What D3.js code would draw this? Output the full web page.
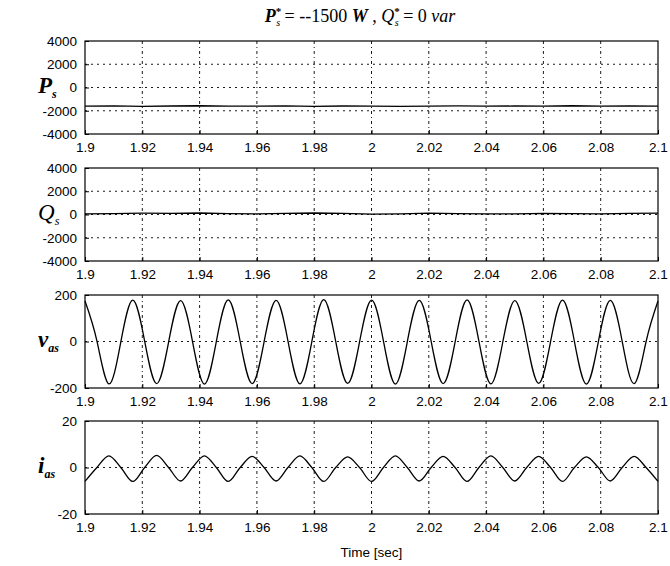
<!DOCTYPE html>
<html>
<head>
<meta charset="utf-8">
<script src="https://cdn.jsdelivr.net/npm/d3@7"></script>
<style>
body { margin: 0; background: #fff; }
</style>
</head>
<body>
<div class="canvas"></div>
<script>
// x ticks (time, sec)
const timeTicks = [1.9, 1.92, 1.94, 1.96, 1.98, 2.0, 2.02, 2.04, 2.06, 2.08, 2.1]

// Ps and Qs, read every 10 ms
const tPQ = [1.9, 1.91, 1.92, 1.93, 1.94, 1.95, 1.96, 1.97, 1.98, 1.99, 2.0,
             2.01, 2.02, 2.03, 2.04, 2.05, 2.06, 2.07, 2.08, 2.09, 2.1]
const psVals = [-1600, -1580, -1620, -1590, -1570, -1610, -1600, -1580, -1620, -1590, -1600,
                -1630, -1600, -1580, -1610, -1590, -1600, -1570, -1600, -1590, -1610]
const qsVals = [60, 80, 110, 90, 130, 70, 60, 100, 130, 90, 40,
                60, 110, 80, 60, 50, 100, 80, 60, 90, 120]

// vas and ias, read at peaks, troughs and zero crossings (60 Hz)
const tWave = [1.9, 1.90417, 1.90833, 1.9125, 1.91667, 1.92083, 1.925, 1.92917,
               1.93333, 1.9375, 1.94167, 1.94583, 1.95, 1.95417, 1.95833, 1.9625,
               1.96667, 1.97083, 1.975, 1.97917, 1.98333, 1.9875, 1.99167, 1.99583,
               2.0, 2.00417, 2.00833, 2.0125, 2.01667, 2.02083, 2.025, 2.02917,
               2.03333, 2.0375, 2.04167, 2.04583, 2.05, 2.05417, 2.05833, 2.0625,
               2.06667, 2.07083, 2.075, 2.07917, 2.08333, 2.0875, 2.09167, 2.09583, 2.1]
const vasVals = [174, 2, -182, -2, 178, 1, -181, -3, 176, 2, -183, -1, 179, 0, -181, -2,
                 177, 3, -182, -1, 180, 1, -180, -2, 178, 2, -183, -1, 177, 0, -181, -3,
                 179, 1, -182, -2, 176, 2, -180, -1, 178, 0, -183, -2, 177, 1, -181, -1, 174]
const iasVals = [-6, 0, 5, 0, -6, 0, 5.2, 0, -5.8, 0, 5, 0, -6, 0, 4.8, 0,
                 -5.8, 0, 5, 0, -6, 0, 4.6, 0, -6, 0, 5, 0, -5.8, 0, 4.8, 0,
                 -6, 0, 5, 0, -5.8, 0, 4.8, 0, -6, 0, 4.6, 0, -5.8, 0, 4.8, 0, -6]

const dims = { left: 85, right: 658, height: 93 }
const tops = [41, 168, 295, 421]

const panels = [
  { letter: 'P', sub: 's', bold: true, t: tPQ, v: psVals, dom: [-4000, 4000],
    ticks: [-4000, -2000, 0, 2000, 4000], curve: d3.curveLinear },
  { letter: 'Q', sub: 's', bold: false, t: tPQ, v: qsVals, dom: [-4000, 4000],
    ticks: [-4000, -2000, 0, 2000, 4000], curve: d3.curveLinear },
  { letter: 'v', sub: 'as', bold: true, t: tWave, v: vasVals, dom: [-200, 200],
    ticks: [-200, 0, 200], curve: d3.curveNatural },
  { letter: 'i', sub: 'as', bold: true, t: tWave, v: iasVals, dom: [-20, 20],
    ticks: [-20, 0, 20], curve: d3.curveCatmullRom }
]

const svg = d3.select('.canvas')
  .append('svg')
  .attr('width', 670)
  .attr('height', 566)
  .style('font-family', '"Liberation Sans", Arial, sans-serif')

const x = d3.scaleLinear().domain([1.9, 2.1]).range([dims.left, dims.right])
const fmt = d => String(+d.toFixed(2))

panels.forEach((p, i) => {
  const top = tops[i]
  const y = d3.scaleLinear().domain(p.dom).range([top + dims.height, top])
  const g = svg.append('g')

  // grid
  g.selectAll('.vgrid')
    .data(timeTicks.slice(1, -1))
    .enter().append('line')
    .attr('x1', d => x(d)).attr('x2', d => x(d))
    .attr('y1', top).attr('y2', top + dims.height)
    .attr('stroke', '#000').attr('stroke-width', 0.9)
    .attr('stroke-dasharray', '3,3,1,3')
  g.selectAll('.hgrid')
    .data(p.ticks.slice(1, -1))
    .enter().append('line')
    .attr('x1', dims.left).attr('x2', dims.right)
    .attr('y1', d => y(d)).attr('y2', d => y(d))
    .attr('stroke', '#000').attr('stroke-width', 0.9)
    .attr('stroke-dasharray', '2,4')

  // data line
  const line = d3.line()
    .x((d, k) => x(p.t[k]))
    .y(d => y(d))
    .curve(p.curve)
  g.append('path')
    .attr('d', line(p.v))
    .attr('fill', 'none')
    .attr('stroke', '#000')
    .attr('stroke-width', 1.3)

  // axes
  const xAxis = d3.axisBottom(x).tickValues(timeTicks).tickFormat(fmt)
    .tickSizeInner(-4).tickSizeOuter(0).tickPadding(8)
  const ax = g.append('g')
    .attr('transform', `translate(0,${top + dims.height})`)
    .call(xAxis)
  ax.selectAll('text').attr('font-size', 13.5).attr('fill', '#000')
    .attr('font-family', '"Liberation Sans", Arial, sans-serif')

  const yAxis = d3.axisLeft(y).tickValues(p.ticks).tickFormat(d => String(d))
    .tickSizeInner(-4).tickSizeOuter(0).tickPadding(8)
  const ay = g.append('g')
    .attr('transform', `translate(${dims.left},0)`)
    .call(yAxis)
  ay.selectAll('text').attr('font-size', 13.5).attr('fill', '#000')
    .attr('font-family', '"Liberation Sans", Arial, sans-serif')
  g.selectAll('.domain').remove()

  g.append('rect')
    .attr('x', dims.left).attr('y', top)
    .attr('width', dims.right - dims.left).attr('height', dims.height)
    .attr('fill', 'none').attr('stroke', '#000').attr('stroke-width', 1.2)

  // y label
  const lab = svg.append('text')
    .attr('x', 38).attr('y', y(0) + 5)
    .attr('font-family', '"Liberation Serif", "Times New Roman", serif')
    .attr('font-style', 'italic')
    .attr('font-weight', p.bold ? 'bold' : 'normal')
  lab.append('tspan').attr('font-size', 23).text(p.letter)
  lab.append('tspan').attr('font-size', 12).attr('dy', 5).text(p.sub)
})

// title
const title = svg.append('text')
  .attr('x', 360).attr('y', 22)
  .attr('text-anchor', 'middle')
  .attr('font-family', '"Liberation Serif", "Times New Roman", serif')
  .attr('font-size', 18)
title.append('tspan').attr('font-style', 'italic').attr('font-weight', 'bold').text('P')
title.append('tspan').attr('font-size', 11).attr('dy', -7).attr('font-weight', 'bold').text('*')
title.append('tspan').attr('font-size', 10).attr('dx', -5).attr('dy', 11).attr('font-style', 'italic').text('s')
title.append('tspan').attr('dy', -4).text(' = --1500 ')
title.append('tspan').attr('font-style', 'italic').attr('font-weight', 'bold').text('W')
title.append('tspan').text(' , ')
title.append('tspan').attr('font-style', 'italic').text('Q')
title.append('tspan').attr('font-size', 11).attr('dy', -7).attr('font-weight', 'bold').text('*')
title.append('tspan').attr('font-size', 10).attr('dx', -5).attr('dy', 11).attr('font-style', 'italic').text('s')
title.append('tspan').attr('dy', -4).text(' = 0 ')
title.append('tspan').attr('font-style', 'italic').text('var')

// x label
svg.append('text')
  .attr('x', (dims.left + dims.right) / 2).attr('y', 557)
  .attr('text-anchor', 'middle')
  .attr('font-size', 13.5)
  .text('Time [sec]')
</script>
</body>
</html>
